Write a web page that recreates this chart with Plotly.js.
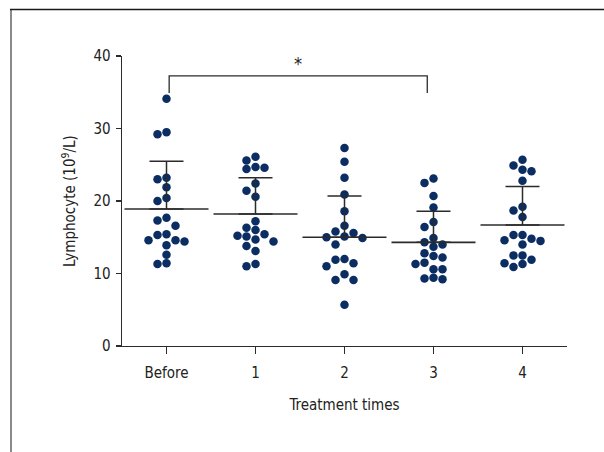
<!DOCTYPE html>
<html>
<head>
<meta charset="utf-8">
<script src="https://cdn.plot.ly/plotly-3.0.1.min.js"></script>
<style>html,body{margin:0;padding:0;background:#fff;}#chart{width:604px;height:452px;}</style>
</head>
<body>
<div id="chart"></div>
<script>
// ---- data ----
const categories = ["Before", "1", "2", "3", "4"];
const groupBefore = [34.1, 29.5, 29.2, 23.0, 23.2, 21.9, 20.0, 20.4, 17.3, 17.7, 16.6, 14.6, 14.6, 15.3, 15.4, 13.9, 14.4, 12.6, 11.3, 11.4];
const group1 = [26.1, 25.6, 24.6, 24.4, 24.7, 22.4, 21.4, 20.6, 17.2, 16.3, 16.0, 15.4, 15.2, 15.1, 14.7, 14.4, 13.8, 13.1, 11.0, 11.3];
const group2 = [27.3, 25.4, 23.2, 20.9, 18.6, 16.6, 15.6, 15.8, 15.1, 15.0, 14.9, 14.0, 11.9, 11.0, 11.4, 12.0, 9.9, 9.1, 9.1, 5.7];
const group3 = [23.1, 22.5, 20.7, 19.1, 17.1, 16.4, 14.9, 14.0, 13.7, 14.3, 12.8, 12.2, 12.4, 11.5, 11.3, 10.6, 10.6, 9.2, 9.3, 9.4];
const group4 = [25.7, 24.9, 24.1, 24.3, 22.8, 19.2, 18.7, 17.8, 15.3, 14.5, 15.3, 14.0, 14.6, 14.8, 12.5, 12.5, 11.3, 10.9, 11.4, 11.9];
const groupMeans = [18.9, 18.2, 15.0, 14.3, 16.7];
const groupSD = [6.6, 5.0, 5.7, 4.3, 5.3];
const sigPair = ["Before", "3"];
const sigLabel = "*";
const yTicks = [0, 10, 20, 30, 40];
const xTitle = "Treatment times";
const yTitle = "Lymphocyte (10<sup>9</sup>/L)";

// ---- layout geometry ----
const W = 604, H = 452;
const M = {l: 122, r: 37, t: 56, b: 106};
const plotW = W - M.l - M.r, plotH = H - M.t - M.b;
const xRange = [-0.5, 4.5], yRange = [0, 40];
const pxPerX = plotW / (xRange[1] - xRange[0]);
const pxPerY = plotH / (yRange[1] - yRange[0]);

const dotColor = "#0b2d62";
const lineColor = "#2b2b2b";
const font = "'Liberation Sans Narrow', 'Arial Narrow', 'DejaVu Sans Condensed', 'Roboto Condensed', sans-serif";
const fs = 15;

// simple beeswarm: offsets computed from values to avoid overlap
function swarm(values, step, minDist) {
  const idx = values.map((v, i) => i).sort((a, b) => values[b] - values[a]);
  const placed = [];
  const offs = new Array(values.length).fill(0);
  const order = [0, -1, 1, -2, 2, -3, 3, -4, 4];
  idx.forEach(i => {
    const py = values[i] * pxPerY;
    for (const k of order) {
      const px = k * step;
      const ok = placed.every(p => Math.hypot(p[0] - px, p[1] - py) >= minDist);
      if (ok) { placed.push([px, py]); offs[i] = px / pxPerX; break; }
    }
  });
  return offs;
}

const groups = [groupBefore, group1, group2, group3, group4];
const traces = [];
groups.forEach((g, gi) => {
  const offs = swarm(g, 9, 8.4);
  traces.push({
    type: "scatter", mode: "markers",
    x: g.map((v, i) => gi + offs[i]), y: g,
    marker: {color: dotColor, size: 8.5, line: {width: 0}},
    hoverinfo: "y", showlegend: false
  });
});
const catIdx = categories.map((c, i) => i);
// SD whisker (upper only)
traces.push({
  type: "scatter", mode: "markers",
  x: catIdx, y: groupMeans,
  marker: {size: 1, color: "rgba(0,0,0,0)"},
  error_y: {type: "data", symmetric: false, array: groupSD, arrayminus: groupSD.map(() => 0),
            color: lineColor, thickness: 1.5, width: 17},
  showlegend: false, hoverinfo: "skip"
});
// mean lines
traces.push({
  type: "scatter", mode: "markers",
  x: catIdx, y: groupMeans,
  marker: {symbol: "line-ew", size: 60, color: lineColor, line: {color: lineColor, width: 1.6}},
  showlegend: false, hoverinfo: "y"
});

const xp = px => (px - M.l) / plotW;
const yp = py => (H - M.b - py) / plotH;
const a = categories.indexOf(sigPair[0]) + 0.03;
const b = categories.indexOf(sigPair[1]) - 0.07;
const barY = 37.25, legY = 34.9;

const layout = {
  width: W, height: H,
  margin: M,
  paper_bgcolor: "#fff", plot_bgcolor: "#fff",
  font: {family: font, size: fs, color: "#222"},
  xaxis: {
    range: xRange, tickvals: catIdx, ticktext: categories,
    showgrid: false, zeroline: false, showline: true, linecolor: lineColor, linewidth: 1.3,
    ticks: "outside", ticklen: 7, tickwidth: 1.3, tickcolor: lineColor,
    ticklabelstandoff: 6,
    tickfont: {family: font, size: fs, color: "#222"},
    title: {text: xTitle, font: {family: font, size: fs, color: "#222"}, standoff: 18},
    fixedrange: true
  },
  yaxis: {
    range: yRange, tickvals: yTicks,
    showgrid: false, zeroline: false, showline: true, linecolor: lineColor, linewidth: 1.3,
    ticks: "outside", ticklen: 5, tickwidth: 1.3, tickcolor: lineColor,
    ticklabelstandoff: 2,
    tickfont: {family: font, size: fs, color: "#222"},
    title: {text: yTitle, font: {family: font, size: fs, color: "#222"}, standoff: 14},
    fixedrange: true
  },
  shapes: [
    {type: "line", xref: "paper", yref: "paper", x0: xp(11), x1: xp(11), y0: yp(9), y1: yp(H),
     line: {color: "#8a8a8a", width: 2}},
    {type: "line", xref: "paper", yref: "paper", x0: xp(10), x1: xp(W), y0: yp(9.5), y1: yp(9.5),
     line: {color: "#1a1a1a", width: 1.5}},
    {type: "path", xref: "x", yref: "y",
     path: `M ${a} ${legY} L ${a} ${barY} L ${b} ${barY} L ${b} ${legY}`,
     line: {color: lineColor, width: 1.3}}
  ],
  annotations: [
    {x: (a + b) / 2, y: 39.0, xref: "x", yref: "y", text: sigLabel, showarrow: false,
     font: {family: font, size: 18, color: "#222"}, yanchor: "middle"}
  ]
};

Plotly.newPlot("chart", traces, layout, {displayModeBar: false, staticPlot: true});
</script>
</body>
</html>
